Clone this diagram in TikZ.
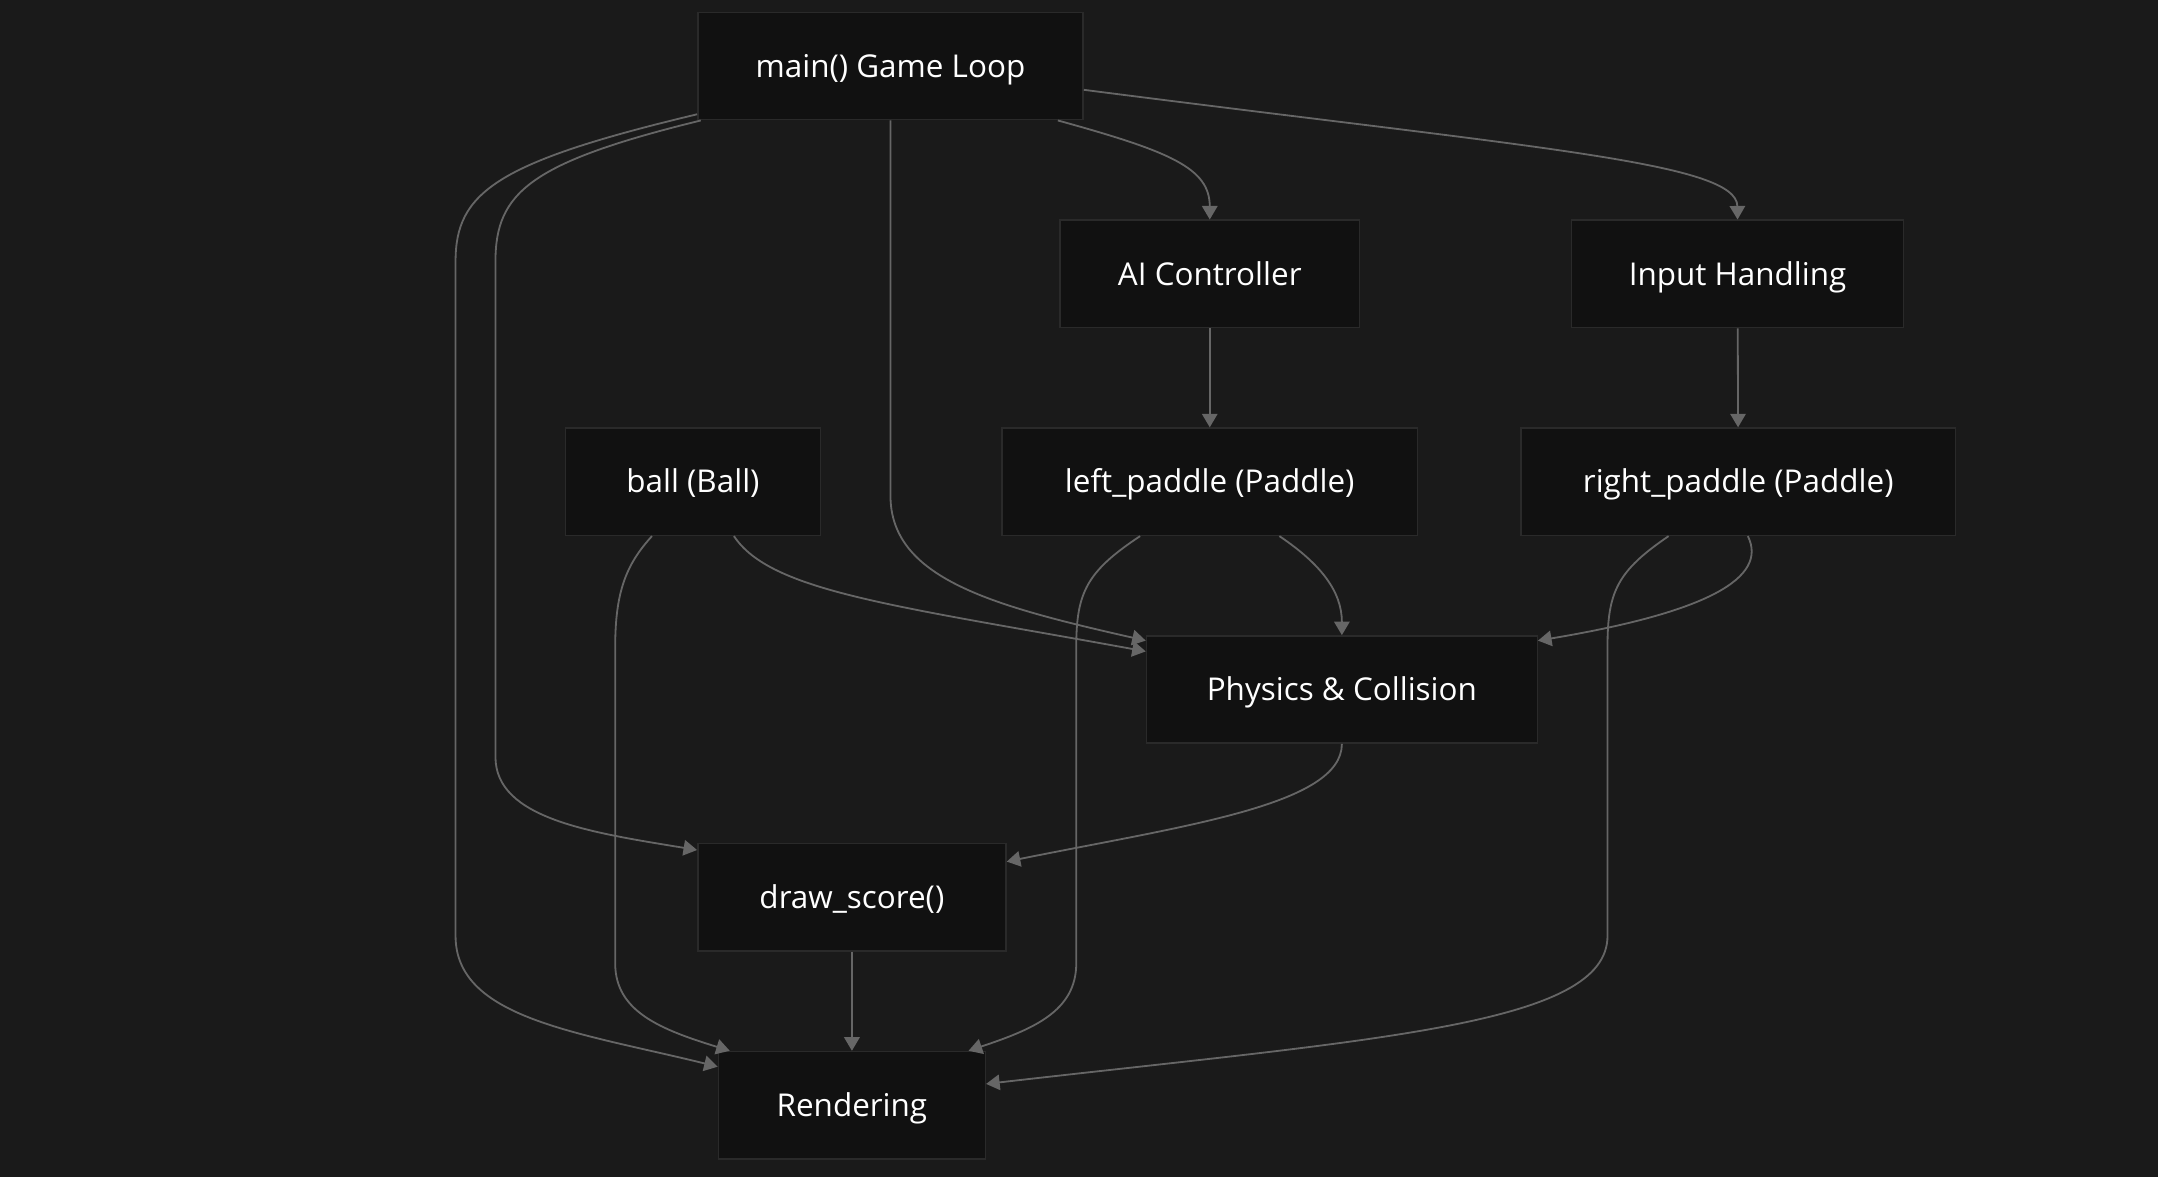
\documentclass[tikz,border=0pt]{standalone}
\usepackage{fontspec}
\setmainfont{Open Sans}
\usetikzlibrary{arrows.meta, positioning}
\definecolor{bgdark}{HTML}{1A1A1A}
\definecolor{boxfill}{HTML}{111111}
\definecolor{boxline}{HTML}{2A2A2A}
\definecolor{linkgray}{HTML}{666666}

\begin{document}
\begin{tikzpicture}[x=0.02cm, y=-0.02cm,
        box/.style={draw=boxline, fill=boxfill, text=white, line width=0.6pt,
            minimum height=1.56cm, inner xsep=2pt, text height=0.92em, text depth=0pt,
            font=\fontsize{13}{15}\selectfont},
        link/.style={draw=linkgray, line width=0.75pt,
            -{Triangle[length=5.6pt, width=6.4pt]}}]
        \useasboundingbox (0,0) rectangle (1568,854.5);
        \fill[bgdark] (-4,-4) rectangle (1572,860);

        \node[box, minimum width=5.6cm]  (main)   at (647,48)    {main() Game Loop};
        \node[box, minimum width=4.36cm] (ai)     at (879,199)   {AI Controller};
        \node[box, minimum width=4.82cm] (input)  at (1262.5,199) {Input Handling};
        \node[box, minimum width=3.7cm]  (ball)   at (503.5,350) {ball (Ball)};
        \node[box, minimum width=6.04cm] (lpad)   at (879,350)   {left\_paddle (Paddle)};
        \node[box, minimum width=6.32cm] (rpad)   at (1263,350)  {right\_paddle (Paddle)};
        \node[box, minimum width=5.68cm] (phys)   at (975,501)   {Physics \& Collision};
        \node[box, minimum width=4.48cm] (score)  at (619,652)   {draw\_score()};
        \node[box, minimum width=3.88cm] (render) at (619,803)   {Rendering};

        % from the game loop
        \draw[link] (main.194) .. controls (360,118) and (331,140) .. (331,190)
            -- (331,680) .. controls (331,740) and (420,750) .. (render.164);
        \draw[link] (main.196) .. controls (385,118) and (360,140) .. (360,190)
            -- (360,550) .. controls (360,595) and (430,605) .. (score.163);
        \draw[link] (main.south) -- (647,360) .. controls (647,420) and (720,440) .. (phys.166);
        \draw[link] (main.-18) .. controls (850,110) and (879,122) .. (ai.north);
        \draw[link] (main.-7) .. controls (1120,108) and (1262,118) .. (input.north);

        \draw[link] (ai) -- (lpad);
        \draw[link] (input) -- (rpad);

        % objects
        \draw[link] (ball.-127) .. controls (455,410) and (447,430) .. (447,470)
            -- (447,700) .. controls (447,735) and (480,748) .. (render.156);
        \draw[link] (ball.-53) .. controls (560,430) and (650,440) .. (phys.169);
        \draw[link] (lpad.-142) .. controls (790,415) and (782,430) .. (782,470)
            -- (782,700) .. controls (782,735) and (750,748) .. (render.25);
        \draw[link] (lpad.-38) .. controls (960,410) and (975,430) .. (phys.north);
        \draw[link] (rpad.-80) .. controls (1285,420) and (1240,445) .. (phys.14);
        \draw[link] (rpad.-142) .. controls (1175,415) and (1168,430) .. (1168,470)
            -- (1168,680) .. controls (1168,745) and (1000,755) .. (render.9);

        \draw[link] (phys.south) .. controls (975,585) and (860,600) .. (score.13);
        \draw[link] (score) -- (render);
\end{tikzpicture}
\end{document}
